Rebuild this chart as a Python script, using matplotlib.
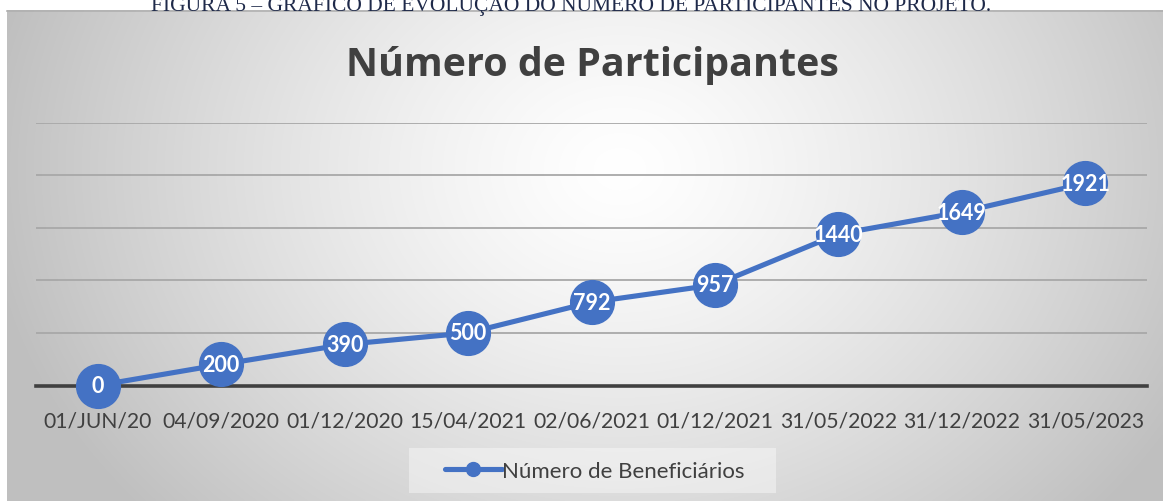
import numpy as np
import matplotlib
matplotlib.use("Agg")
import matplotlib.pyplot as plt
from matplotlib.lines import Line2D
from matplotlib.patches import Rectangle

# ---- data ----
categories = ["01/JUN/20", "04/09/2020", "01/12/2020", "15/04/2021", "02/06/2021",
              "01/12/2021", "31/05/2022", "31/12/2022", "31/05/2023"]
participants = [0, 200, 390, 500, 792, 957, 1440, 1649, 1921]
series_name = "Número de Beneficiários"
chart_title = "Número de Participantes"
caption = "FIGURA 5 – GRÁFICO DE EVOLUÇÃO DO NÚMERO DE PARTICIPANTES NO PROJETO."

W, H = 1163, 502
fig = plt.figure(figsize=(W / 100, H / 100), dpi=100)
fig.patch.set_facecolor("white")

def fx(px):
    return px / W

def fy(py):
    return 1 - py / H

# ---- chart frame with radial gradient background ----
x0, x1, y0, y1 = 7, 1163, 11, 502
bg = fig.add_axes([fx(x0), fy(y1), fx(x1 - x0), (y1 - y0) / H], zorder=0)
nx, ny = 600, 260
xx, yy = np.meshgrid(np.linspace(x0, x1, nx), np.linspace(y0, y1, ny))
cx, cy = 620, 170
r = np.sqrt(((xx - cx) / 640.0) ** 2 + ((yy - cy) / 520.0) ** 2)
r = np.clip(r, 0, 1)
val = 1.0 - 0.25 * r ** 1.3
img = np.dstack([val, val, val])
bg.imshow(img, aspect="auto", extent=[0, 1, 0, 1], origin="upper", interpolation="bilinear")
bg.set_axis_off()
# top shadow line of frame
fig.add_artist(Line2D([fx(x0), 1], [fy(y0 + 0.5), fy(y0 + 0.5)], color="#b0b0b0", lw=1.2, zorder=1))

# ---- caption (cut off at top, as in the source image) ----
fig.text(0.5 * (fx(148) + fx(994)), fy(10.5), caption, ha="center", va="baseline",
         fontsize=15.5, family="Liberation Serif", color="#1F2A4A", zorder=2)

# ---- main axes ----
left, right = 36, 1147
top, bottom = 123.5, 386.5
ax = fig.add_axes([fx(left), fy(bottom), fx(right - left), (bottom - top) / H], zorder=2)
ax.patch.set_alpha(0)
xpos = np.arange(len(categories))
ax.set_xlim(-0.5, len(categories) - 0.5)
ax.set_ylim(0, 2500)
ax.set_yticks([500, 1000, 1500, 2000, 2500])
ax.yaxis.grid(True, color="#a8a8a8", lw=1.3)
ax.set_axisbelow(True)
ax.tick_params(axis="y", left=False, labelleft=False)
for s in ["left", "right", "top"]:
    ax.spines[s].set_visible(False)
ax.spines["bottom"].set_color("#404040")
ax.spines["bottom"].set_linewidth(2.6)
ax.spines["bottom"].set_zorder(1)

blue = "#4472C4"
ax.plot(xpos, participants, color=blue, lw=3.7, marker="o", markersize=31.5,
        markerfacecolor=blue, markeredgecolor=blue, zorder=3, clip_on=False,
        solid_capstyle="round")
for xi, v in zip(xpos, participants):
    ax.text(xi, v, str(v), ha="center", va="center", color="white",
            fontsize=15.5, fontweight="bold", family="Lato", zorder=4)

ax.set_xticks(xpos)
ax.set_xticklabels(categories, fontsize=15.2, family="Lato", color="#404040")
ax.tick_params(axis="x", length=0, pad=18)

# ---- title ----
fig.text(fx(592), fy(76), chart_title, ha="center", va="baseline", fontsize=28.4,
         fontweight="bold", family="Open Sans", color="#404040", zorder=3)

# ---- legend ----
fig.add_artist(Rectangle((fx(409), fy(494)), fx(776 - 409), (494 - 449) / H,
                         transform=fig.transFigure, facecolor="white", alpha=0.4,
                         edgecolor="none", zorder=2))
handle = Line2D([0], [0], color=blue, lw=3.7, marker="o", markersize=10,
                markerfacecolor=blue, markeredgecolor=blue, solid_capstyle="round")
leg = fig.legend([handle], [series_name], loc="center left", bbox_to_anchor=(fx(445), fy(471.5)),
                 prop={"family": "Lato", "size": 16}, frameon=False, handlelength=2.55,
                 handletextpad=0.0, borderpad=0, borderaxespad=0)
leg.set_zorder(3)
for t in leg.get_texts():
    t.set_color("#404040")

fig.savefig("out.png", dpi=100, facecolor="white")
